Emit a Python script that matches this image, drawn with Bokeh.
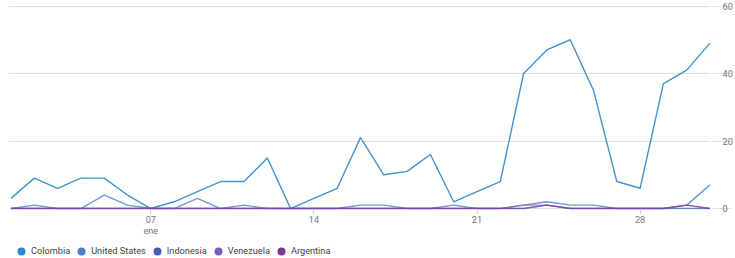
from bokeh.plotting import figure
from bokeh.layouts import column
from bokeh.models import Range1d, FixedTicker, Legend, LegendItem
from bokeh.embed import file_html
from bokeh.resources import INLINE

# ---- data (January, day of month) ----
days = list(range(1, 32))
colombia = [3, 9, 6, 9, 9, 4, 0, 2, 5, 8, 8, 15, 0, 3, 6, 21, 10, 11, 16, 2,
            5, 8, 40, 47, 50, 35, 8, 6, 37, 41, 49]
united_states = [0, 1, 0, 0, 4, 1, 0, 0, 3, 0, 1, 0, 0, 0, 0, 1, 1, 0, 0, 1,
                 0, 0, 1, 2, 1, 1, 0, 0, 0, 1, 7]
indonesia = [0, 0, 0, 0, 0, 0, 0, 0, 0, 0, 0, 0, 0, 0, 0, 0, 0, 0, 0, 0,
             0, 0, 0, 1, 0, 0, 0, 0, 0, 0, 0]
venezuela = [0, 0, 0, 0, 0, 0, 0, 0, 0, 0, 0, 0, 0, 0, 0, 0, 0, 0, 0, 0,
             0, 0, 1, 1, 0, 0, 0, 0, 0, 1, 0]
argentina = [0, 0, 0, 0, 0, 0, 0, 0, 0, 0, 0, 0, 0, 0, 0, 0, 0, 0, 0, 0,
             0, 0, 0, 1, 0, 0, 0, 0, 0, 1, 0]

series_names = ["Colombia", "United States", "Indonesia", "Venezuela", "Argentina"]
series_values = [colombia, united_states, indonesia, venezuela, argentina]
series_colors = ["#2f88c9", "#4f80c9", "#4b5ab7", "#7d5cb8", "#7b3697"]
series_alpha = [0.9, 0.8, 0.7, 0.7, 0.55]

x_ticks = [7, 14, 21, 28]
x_tick_labels = ["07\nene", "14", "21", "28"]
y_ticks = [0, 20, 40, 60]

FONT = "Roboto"
FS = "9.2px"
W = 735

p = figure(width=W, height=238, output_backend="svg", toolbar_location=None,
           x_range=Range1d(0.893, 31.021), y_range=Range1d(-0.29, 60.15),
           y_axis_location="right",
           min_border_left=8, min_border_top=5, min_border_right=23, min_border_bottom=26)
p.outline_line_color = None
p.background_fill_color = "white"
p.border_fill_color = "white"

p.xgrid.visible = False
p.ygrid.ticker = FixedTicker(ticks=y_ticks)
p.ygrid.grid_line_color = "#e0e0e0"
p.ygrid.grid_line_width = 1

for name, vals, col, al in zip(series_names, series_values, series_colors, series_alpha):
    p.line(days, vals, line_color=col, line_width=1.4, line_alpha=al)

# y axis (right)
ya = p.yaxis[0]
ya.ticker = FixedTicker(ticks=y_ticks)
ya.axis_line_color = None
ya.major_tick_in = -2
ya.major_tick_out = 21
ya.major_tick_line_color = "#e0e0e0"
ya.minor_tick_line_color = None
ya.major_label_standoff = -9
ya.major_label_text_font = FONT
ya.major_label_text_font_size = FS
ya.major_label_text_color = "#757575"

# x axis (below)
xa = p.xaxis[0]
xa.ticker = FixedTicker(ticks=x_ticks)
xa.major_label_overrides = {t: lab for t, lab in zip(x_ticks, x_tick_labels)}
xa.axis_line_color = None
xa.major_tick_in = 0
xa.major_tick_out = 4
xa.major_tick_line_color = "#cccccc"
xa.minor_tick_line_color = None
xa.major_label_standoff = 0
xa.major_label_text_font = FONT
xa.major_label_text_font_size = FS
xa.major_label_text_color = "#757575"
xa.major_label_text_line_height = 1.0

# legend strip
lf = figure(width=W, height=20, output_backend="svg", toolbar_location=None,
            x_range=Range1d(0, 1), y_range=Range1d(0, 1), min_border=0)
lf.axis.visible = False
lf.grid.visible = False
lf.outline_line_color = None
lf.background_fill_color = "white"
lf.border_fill_color = "white"

items = []
for name, vals, col in zip(series_names, series_values, series_colors):
    r = lf.scatter(days, vals, marker="circle", size=0, fill_color=col, line_color=None)
    items.append(LegendItem(label=name, renderers=[r]))

legend = Legend(items=items, orientation="horizontal", location=(3, -2.5),
                glyph_width=20, glyph_height=20, label_standoff=-2, spacing=1,
                padding=0, margin=0, border_line_color=None, background_fill_alpha=0,
                label_text_font=FONT, label_text_font_size=FS,
                label_text_color="#444444")
lf.add_layout(legend, "center")

layout = column(p, lf, spacing=0)
open("out.html", "w").write(file_html(layout, INLINE))
